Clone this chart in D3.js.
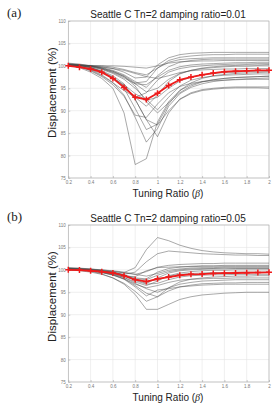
<!DOCTYPE html>
<html>
<head>
<meta charset="utf-8">
<script src="https://cdn.jsdelivr.net/npm/d3@7"></script>
<style>
  body { margin: 0; background: #fff; }
  svg { display: block; }
  .tick text { fill: #777; font-family: "Liberation Sans", Arial, sans-serif; }
</style>
</head>
<body>
<svg id="chart" width="272" height="403"></svg>
<script>
// tuning ratio steps
let beta = [0.2, 0.3, 0.4, 0.5, 0.6, 0.7, 0.8, 0.9, 1.0, 1.1, 1.2, 1.3, 1.4, 1.5, 1.6, 1.7, 1.8, 1.9, 2.0]
let xTicks = [0.2, 0.4, 0.6, 0.8, 1, 1.2, 1.4, 1.6, 1.8, 2]
let yTicks = [75, 80, 85, 90, 95, 100, 105, 110]

let titleA = "Seattle C Tn=2 damping ratio=0.01"
let titleB = "Seattle C Tn=2 damping ratio=0.05"

// mean curves (red)
let meanA = [100, 99.7, 99.3, 98.6, 97.2, 95.2, 93.0, 92.5, 93.9, 95.6, 96.9, 97.5, 98.0, 98.4, 98.7, 98.8, 98.9, 99.0, 99.0]
let meanB = [100, 99.95, 99.8, 99.6, 99.3, 98.7, 97.8, 97.4, 98.0, 98.4, 98.8, 99.0, 99.05, 99.2, 99.25, 99.3, 99.35, 99.4, 99.45]

// individual records, damping 0.01
let recordsA = [
  [100.2, 99.6, 98.6, 97.2, 95.0, 89.5, 78.0, 79.3, 87.5, 92.0, 94.5, 95.8, 96.5, 96.9, 97.2, 97.4, 97.5, 97.6, 97.7],
  [100.3, 99.9, 99.2, 98.0, 96.3, 93.5, 88.5, 83.0, 86.0, 91.0, 93.8, 95.2, 96.0, 96.5, 96.8, 97.0, 97.1, 97.2, 97.3],
  [100.1, 100.0, 99.6, 98.9, 97.8, 96.0, 92.5, 88.0, 84.2, 89.5, 92.6, 94.0, 94.7, 95.0, 95.2, 95.3, 95.3, 95.3, 95.3],
  [100.4, 100.1, 99.6, 98.8, 97.5, 95.0, 90.5, 85.8, 87.0, 91.5, 94.5, 96.2, 97.2, 97.8, 98.1, 98.3, 98.4, 98.5, 98.6],
  [100.0, 99.8, 99.4, 98.6, 97.4, 95.6, 92.5, 88.0, 86.8, 90.0, 92.5, 93.8, 94.5, 94.8, 95.0, 95.1, 95.1, 95.1, 95.0],
  [100.2, 100.1, 99.9, 99.5, 98.8, 97.6, 95.5, 92.0, 89.5, 91.8, 94.0, 95.5, 96.4, 96.9, 97.2, 97.4, 97.5, 97.6, 97.7],
  [100.5, 100.2, 99.6, 98.7, 97.2, 95.5, 93.0, 91.0, 93.5, 96.5, 98.2, 99.0, 99.5, 99.8, 100.0, 100.1, 100.2, 100.2, 100.3],
  [100.2, 99.8, 99.0, 97.8, 96.2, 94.5, 93.0, 94.0, 96.8, 98.6, 99.4, 99.8, 100.0, 100.2, 100.3, 100.4, 100.4, 100.5, 100.5],
  [100.3, 100.1, 99.8, 99.3, 98.6, 97.6, 96.0, 94.2, 95.0, 97.0, 98.3, 99.0, 99.4, 99.6, 99.8, 99.9, 99.9, 100.0, 100.0],
  [100.4, 100.3, 100.0, 99.5, 98.8, 97.8, 96.2, 96.5, 99.5, 101.2, 101.9, 102.2, 102.4, 102.5, 102.5, 102.6, 102.6, 102.6, 102.6],
  [100.1, 100.1, 100.0, 99.8, 99.4, 98.6, 97.3, 97.5, 100.2, 101.8, 102.5, 102.8, 102.9, 103.0, 103.0, 103.0, 103.0, 103.0, 103.0],
  [100.2, 100.2, 100.1, 100.0, 99.7, 99.2, 98.5, 98.0, 99.5, 100.8, 101.4, 101.6, 101.7, 101.8, 101.8, 101.8, 101.8, 101.8, 101.8],
  [100.0, 100.0, 100.0, 100.0, 100.0, 99.9, 99.7, 99.5, 100.0, 100.6, 100.9, 101.0, 101.1, 101.1, 101.2, 101.2, 101.2, 101.2, 101.2],
  [100.6, 100.4, 100.0, 99.4, 98.5, 97.3, 96.0, 95.8, 97.5, 99.0, 99.8, 100.2, 100.4, 100.5, 100.6, 100.7, 100.7, 100.8, 100.8],
  [100.0, 99.7, 99.2, 98.4, 97.3, 95.8, 93.8, 92.3, 93.0, 95.0, 96.6, 97.5, 98.0, 98.3, 98.5, 98.6, 98.7, 98.8, 98.8],
  [100.3, 99.8, 98.9, 97.6, 95.8, 93.2, 89.0, 88.5, 91.5, 94.0, 95.4, 96.1, 96.5, 96.7, 96.8, 96.9, 97.0, 97.0, 97.0],
  [100.1, 100.0, 99.9, 99.7, 99.4, 99.0, 98.3, 97.6, 97.2, 97.8, 98.5, 98.9, 99.1, 99.2, 99.3, 99.3, 99.4, 99.4, 99.4],
  [100.3, 100.2, 100.0, 99.6, 99.0, 98.0, 96.5, 95.2, 97.8, 99.8, 100.8, 101.2, 101.4, 101.5, 101.5, 101.5, 101.5, 101.5, 101.5],
  [100.4, 100.2, 99.8, 99.2, 98.3, 97.0, 95.0, 92.5, 90.2, 93.0, 95.5, 96.8, 97.4, 97.7, 97.9, 98.0, 98.1, 98.2, 98.2]
]

// individual records, damping 0.05
let recordsB = [
  [100.2, 100.1, 100.0, 99.8, 99.6, 99.4, 100.5, 104.5, 107.2, 106.5, 105.5, 104.8, 104.3, 104.0, 103.8, 103.7, 103.6, 103.6, 103.5],
  [100.1, 100.0, 99.9, 99.7, 99.4, 99.0, 99.5, 101.8, 103.6, 104.2, 104.0, 103.8, 103.6, 103.5, 103.4, 103.3, 103.3, 103.2, 103.2],
  [100.3, 100.1, 99.7, 99.1, 98.2, 96.8, 94.5, 91.2, 91.2, 92.3, 93.4, 94.0, 94.4, 94.6, 94.8, 94.9, 95.0, 95.0, 95.0],
  [100.0, 99.8, 99.5, 99.0, 98.2, 97.0, 95.2, 93.0, 94.0, 95.3, 96.2, 96.6, 96.9, 97.0, 97.1, 97.1, 97.2, 97.2, 97.2],
  [100.1, 100.0, 99.8, 99.4, 98.8, 97.9, 96.2, 94.2, 95.5, 95.8, 96.2, 96.4, 96.6, 96.7, 96.8, 96.8, 96.8, 96.8, 96.8],
  [100.2, 100.1, 99.9, 99.6, 99.1, 98.3, 97.0, 95.8, 95.0, 96.0, 96.8, 97.2, 97.5, 97.6, 97.7, 97.8, 97.8, 97.8, 97.8],
  [100.4, 100.2, 99.9, 99.5, 98.9, 98.0, 96.8, 96.0, 96.5, 97.2, 97.7, 97.9, 98.0, 98.1, 98.1, 98.2, 98.2, 98.2, 98.2],
  [100.3, 100.3, 100.2, 100.0, 99.7, 99.3, 99.0, 99.6, 100.6, 101.0, 101.2, 101.3, 101.4, 101.4, 101.5, 101.5, 101.5, 101.5, 101.5],
  [100.5, 100.4, 100.2, 99.9, 99.5, 98.9, 98.2, 98.0, 99.5, 100.3, 100.6, 100.8, 100.9, 100.9, 101.0, 101.0, 101.0, 101.0, 101.0],
  [100.2, 100.2, 100.1, 100.0, 99.8, 99.5, 99.0, 98.6, 99.2, 99.9, 100.2, 100.4, 100.5, 100.5, 100.6, 100.6, 100.6, 100.6, 100.6],
  [100.0, 100.0, 99.9, 99.7, 99.4, 98.8, 97.8, 97.0, 98.2, 99.3, 99.8, 100.0, 100.1, 100.2, 100.2, 100.3, 100.3, 100.3, 100.3],
  [100.1, 100.0, 99.8, 99.5, 99.0, 98.3, 97.3, 96.5, 97.5, 98.7, 99.3, 99.6, 99.8, 99.9, 99.9, 100.0, 100.0, 100.0, 100.0],
  [100.3, 100.2, 100.0, 99.7, 99.3, 98.7, 97.9, 97.4, 97.8, 98.6, 99.0, 99.2, 99.3, 99.4, 99.4, 99.5, 99.5, 99.5, 99.5],
  [100.0, 99.9, 99.7, 99.4, 98.9, 98.0, 96.5, 94.8, 94.0, 96.0, 97.3, 97.9, 98.2, 98.4, 98.5, 98.6, 98.6, 98.7, 98.7],
  [100.4, 100.3, 100.1, 99.8, 99.4, 98.8, 98.0, 97.8, 98.8, 99.6, 100.0, 100.2, 100.3, 100.3, 100.4, 100.4, 100.4, 100.4, 100.4],
  [100.1, 100.0, 99.9, 99.7, 99.3, 98.6, 97.6, 96.8, 97.0, 97.8, 98.4, 98.7, 98.8, 98.9, 98.9, 99.0, 99.0, 99.0, 99.0],
  [100.2, 100.1, 99.9, 99.6, 99.2, 98.6, 98.5, 99.8, 100.5, 100.6, 100.7, 100.7, 100.8, 100.8, 100.8, 100.8, 100.8, 100.8, 100.8]
]

let svg = d3.select("#chart")

drawPanel("(a)", titleA, recordsA, meanA, 0)
drawPanel("(b)", titleB, recordsB, meanB, 204)

function drawPanel(tag, title, records, mean, top) {
  let left = 68.3, right = 269
  let y0 = top + 21, y1 = top + 178

  let x = d3.scaleLinear().domain([0.2, 2]).range([left, right])
  let y = d3.scaleLinear().domain([75, 110]).range([y1, y0])

  let g = svg.append("g")

  // grid
  g.append("g")
    .selectAll("line.vx")
    .data(xTicks)
    .enter()
    .append("line")
    .attr("x1", d => x(d)).attr("x2", d => x(d))
    .attr("y1", y0).attr("y2", y1)
    .attr("stroke", "#e4e4e4")
    .attr("stroke-width", 0.6)
  g.append("g")
    .selectAll("line.hy")
    .data(yTicks)
    .enter()
    .append("line")
    .attr("x1", left).attr("x2", right)
    .attr("y1", d => y(d)).attr("y2", d => y(d))
    .attr("stroke", "#e4e4e4")
    .attr("stroke-width", 0.6)

  // axes
  let xAxis = g.append("g")
    .attr("transform", "translate(0," + y1 + ")")
    .call(d3.axisBottom(x).tickValues(xTicks).tickSize(2).tickFormat(d => d))
  let yAxis = g.append("g")
    .attr("transform", "translate(" + left + ",0)")
    .call(d3.axisLeft(y).tickValues(yTicks).tickSize(2).tickFormat(d => d))

  xAxis.selectAll(".tick line").attr("y2", -2).attr("stroke", "#999").attr("stroke-width", 0.5)
  yAxis.selectAll(".tick line").attr("x2", 2).attr("stroke", "#999").attr("stroke-width", 0.5)
  xAxis.selectAll(".tick text").attr("font-size", "4.5px").attr("y", 3)
  yAxis.selectAll(".tick text").attr("font-size", "4.5px").attr("x", -2.5)
  xAxis.select(".domain").remove()
  yAxis.select(".domain").remove()

  g.append("rect")
    .attr("x", left).attr("y", y0)
    .attr("width", right - left).attr("height", y1 - y0)
    .attr("fill", "none")
    .attr("stroke", "#aaa")
    .attr("stroke-width", 0.6)

  let line = d3.line()
    .x((d, i) => x(beta[i]))
    .y(d => y(d))

  g.append("g")
    .selectAll("path")
    .data(records)
    .enter()
    .append("path")
    .attr("d", line)
    .attr("fill", "none")
    .attr("stroke", "#4a4a4a")
    .attr("stroke-opacity", 0.8)
    .attr("stroke-width", 0.6)

  g.append("path")
    .datum(mean)
    .attr("d", line)
    .attr("fill", "none")
    .attr("stroke", "#ee1c1c")
    .attr("stroke-width", 1.8)

  // plus markers
  g.append("g")
    .selectAll("path.mk")
    .data(mean)
    .enter()
    .append("path")
    .attr("d", (d, i) => {
      let cx = x(beta[i]), cy = y(d)
      return "M" + (cx - 3) + "," + cy + "H" + (cx + 3) + "M" + cx + "," + (cy - 3) + "V" + (cy + 3)
    })
    .attr("stroke", "#ee1c1c")
    .attr("stroke-width", 1.5)

  // labels
  g.append("text")
    .attr("x", 168).attr("y", top + 18)
    .attr("text-anchor", "middle")
    .attr("font-family", "Liberation Sans, Arial, sans-serif")
    .attr("font-size", "10px")
    .attr("fill", "#222")
    .text(title)

  g.append("text")
    .attr("x", 7).attr("y", top + 17)
    .attr("font-family", "Liberation Serif, Times New Roman, serif")
    .attr("font-size", "13px")
    .attr("fill", "#222")
    .text(tag)

  g.append("text")
    .attr("transform", "translate(52," + (top + 92.5) + ") rotate(-90)")
    .attr("text-anchor", "middle")
    .attr("dy", "0.35em")
    .attr("font-family", "Liberation Sans, Arial, sans-serif")
    .attr("font-size", "11.5px")
    .attr("fill", "#222")
    .text("Displacement (%)")

  let xl = g.append("text")
    .attr("x", 168).attr("y", top + 197)
    .attr("text-anchor", "middle")
    .attr("font-family", "Liberation Sans, Arial, sans-serif")
    .attr("font-size", "10px")
    .attr("fill", "#222")
  xl.append("tspan").text("Tuning Ratio (")
  xl.append("tspan")
    .attr("font-family", "Liberation Serif, Times New Roman, serif")
    .attr("font-style", "italic")
    .text("β")
  xl.append("tspan").text(")")
}
</script>
</body>
</html>
